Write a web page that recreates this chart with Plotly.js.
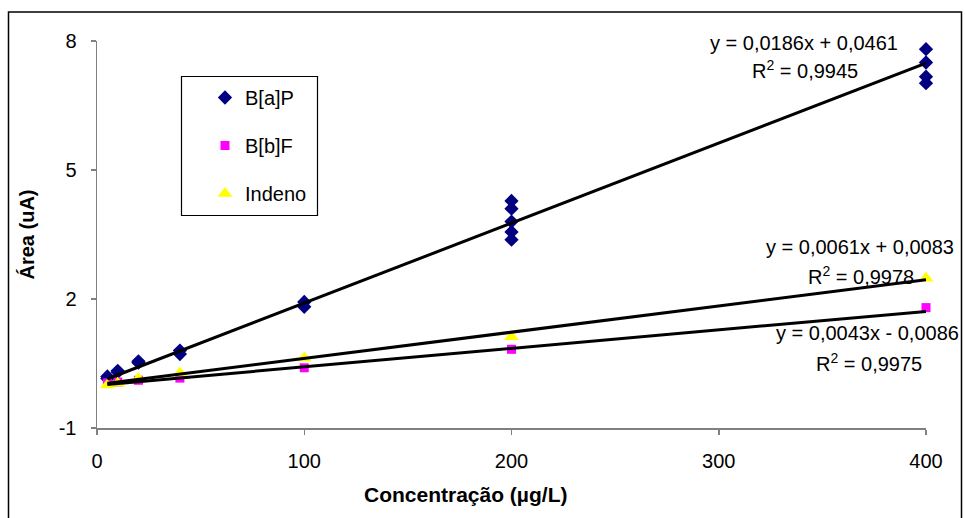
<!DOCTYPE html>
<html>
<head>
<meta charset="utf-8">
<script src="https://cdn.plot.ly/plotly-3.0.1.min.js"></script>
<style>html,body{margin:0;padding:0;background:#fff}#chart{width:965px;height:518px}</style>
</head>
<body>
<div id="chart"></div>
<script>
// ---- data ----
const seriesNames = ["B[a]P", "B[b]F", "Indeno"];
const baP_x = [5, 5, 10, 10, 20, 20, 40, 40, 100, 100, 200, 200, 200, 200, 200, 400, 400, 400, 400];
const baP_y = [0.15, 0.2, 0.3, 0.33, 0.52, 0.55, 0.72, 0.8, 1.82, 1.93, 3.38, 3.56, 3.8, 4.1, 4.28, 7.02, 7.17, 7.5, 7.81];
const bbF_x = [5, 10, 20, 40, 100, 200, 400];
const bbF_y = [0.05, 0.07, 0.11, 0.16, 0.4, 0.83, 1.8];
const ind_x = [5, 10, 20, 40, 100, 200, 400];
const ind_y = [0.0, 0.04, 0.15, 0.28, 0.63, 1.12, 2.48];
const slopes = [0.0186, 0.0061, 0.0043];
const intercepts = [0.0461, 0.0083, -0.0086];
const fitRange = [5, 400];
const eqLabels = ["y = 0,0186x + 0,0461", "y = 0,0061x + 0,0083", "y = 0,0043x - 0,0086"];
const r2Labels = ["R<sup>2</sup> = 0,9945", "R<sup>2</sup> = 0,9978", "R<sup>2</sup> = 0,9975"];
const xTicks = [0, 100, 200, 300, 400];
const yTicks = [-1, 2, 5, 8];
const xTitle = "Concentração (µg/L)";
const yTitle = "Área (uA)";

// ---- layout geometry ----
const W = 965, H = 518;
const M = {l: 97, r: 39, t: 41, b: 90};
const PW = W - M.l - M.r, PH = H - M.t - M.b;
const px = x => (x - M.l) / PW;
const py = y => (H - M.b - y) / PH;
const FONT = "Arial, 'Liberation Sans', sans-serif";
const FS = 20;

const markers = [
  {symbol: "diamond", size: 11, color: "#000080"},
  {symbol: "square", size: 9, color: "#FF00FF"},
  {symbol: "triangle-up", size: 13, color: "#FFFF00"}
];
const xs = [baP_x, bbF_x, ind_x], ys = [baP_y, bbF_y, ind_y];

const traces = [];
for (let i = 0; i < 3; i++) {
  traces.push({
    type: "scatter", mode: "markers", name: seriesNames[i],
    x: xs[i], y: ys[i], legendgroup: "g" + i,
    marker: {symbol: markers[i].symbol, size: markers[i].size, color: markers[i].color, line: {width: 0}},
    cliponaxis: false
  });
}
for (let i = 0; i < 3; i++) {
  traces.push({
    type: "scatter", mode: "lines", showlegend: false, hoverinfo: "skip",
    x: fitRange, y: fitRange.map(v => slopes[i] * v + intercepts[i]),
    line: {color: "#000000", width: 3}
  });
}

const annPos = [
  {x: 804, y: 43, r2x: 805, r2y: 70},
  {x: 860, y: 247, r2x: 861, r2y: 275},
  {x: 867, y: 333, r2x: 869, r2y: 362}
];
const annotations = [];
for (let i = 0; i < 3; i++) {
  annotations.push({xref: "paper", yref: "paper", x: px(annPos[i].x), y: py(annPos[i].y), text: eqLabels[i],
    showarrow: false, xanchor: "center", yanchor: "middle", font: {family: FONT, size: FS, color: "#000"}});
  annotations.push({xref: "paper", yref: "paper", x: px(annPos[i].r2x), y: py(annPos[i].r2y), text: r2Labels[i],
    showarrow: false, xanchor: "center", yanchor: "middle", font: {family: FONT, size: FS, color: "#000"}});
}
annotations.push({xref: "paper", yref: "paper", x: px(465), y: py(494), text: "<b>" + xTitle + "</b>",
  showarrow: false, xanchor: "center", yanchor: "middle", font: {family: FONT, size: 21, color: "#000"}});

const shapes = [
  {type: "rect", xref: "paper", yref: "paper", x0: px(8.5), x1: px(961.5), y0: py(12), y1: py(540),
   line: {color: "#000", width: 1.5}, fillcolor: "rgba(0,0,0,0)", layer: "below"},
  {type: "rect", xref: "paper", yref: "paper", x0: px(181.5), x1: px(317.5), y0: py(76.5), y1: py(215.5),
   line: {color: "#000", width: 1.2}, fillcolor: "rgba(0,0,0,0)"}
];

const layout = {
  width: W, height: H, margin: M, paper_bgcolor: "#fff", plot_bgcolor: "#fff",
  font: {family: FONT, size: FS, color: "#000"},
  showlegend: true,
  legend: {x: px(205), y: py(78), xanchor: "left", yanchor: "top", bgcolor: "rgba(0,0,0,0)",
    borderwidth: 0, tracegroupgap: 19, font: {family: FONT, size: FS, color: "#000"}},
  xaxis: {range: [0, 400], tickvals: xTicks, ticktext: xTicks.map(String), showgrid: false, zeroline: false,
    showline: true, linecolor: "#808080", linewidth: 1.5, ticks: "outside", ticklen: 5, tickcolor: "#808080",
    tickwidth: 1.5, ticklabelstandoff: 9},
  yaxis: {range: [-1, 8], tickvals: yTicks, ticktext: yTicks.map(String), showgrid: false, zeroline: false,
    showline: true, linecolor: "#808080", linewidth: 1.5, ticks: "outside", ticklen: 5, tickcolor: "#808080",
    tickwidth: 1.5, ticklabelstandoff: 10,
    title: {text: "<b>" + yTitle + "</b>", font: {family: FONT, size: FS, color: "#000"}, standoff: 18}},
  annotations: annotations, shapes: shapes
};

Plotly.newPlot("chart", traces, layout, {displayModeBar: false, staticPlot: true});
</script>
</body>
</html>
